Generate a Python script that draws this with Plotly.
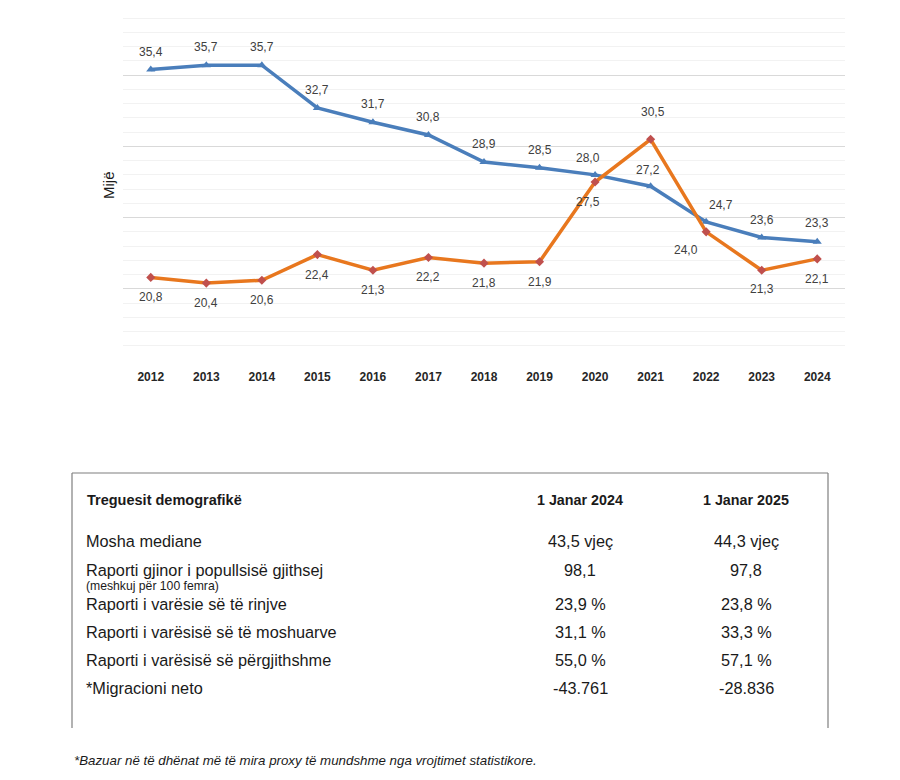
import plotly.graph_objects as go

# Data (thousands)
years = [str(y) for y in range(2012, 2025)]
blue_vals = [35.4, 35.7, 35.7, 32.7, 31.7, 30.8, 28.9, 28.5, 28.0, 27.2, 24.7, 23.6, 23.3]
orange_vals = [20.8, 20.4, 20.6, 22.4, 21.3, 22.2, 21.8, 21.9, 27.5, 30.5, 24.0, 21.3, 22.1]

# label offsets (px) for each point
blue_dx = [0, 0, 0, 0, 0, 0, 0, 0, -7, -3, 15, 0, 0]
blue_dy = [18, 18, 18, 18, 18, 18, 18, 18, 17, 16, 17, 18, 19]
orange_dx = [0, 0, 0, 0, 0, 0, 0, 0, -7, 2, -20, 0, 0]
orange_dy = [-20, -20, -20, -20, -20, -20, -20, -20, -20, 27, -18, -19, -20]

# Table
table_header = ["Treguesit demografikë", "1 Janar 2024", "1 Janar 2025"]
row_labels = ["Mosha mediane", "Raporti gjinor i popullsisë gjithsej",
              "Raporti i varësie së të rinjve", "Raporti i varësisë së të moshuarve",
              "Raporti i varësisë së përgjithshme", "*Migracioni neto"]
col_2024 = ["43,5 vjeç", "98,1", "23,9 %", "31,1 %", "55,0 %", "-43.761"]
col_2025 = ["44,3 vjeç", "97,8", "23,8 %", "33,3 %", "57,1 %", "-28.836"]
row_y = [541, 570, 604, 632, 660, 688]
sub_note = "(meshkuj për 100 femra)"
footnote = "*Bazuar në të dhënat më të mira proxy të mundshme nga vrojtimet statistikore."

# page body has an 8px margin, so the figure is drawn 8px in from the window corner
OFF = 8
W, H = 900 - 2 * OFF, 780 - 2 * OFF
FONT = "Liberation Sans, Arial, sans-serif"
BLUE = "#4a7ebb"
ORANGE = "#e8771e"
RED = "#c0504d"

# plot area in window pixels: 40 sits at y=4, 15 at y=360; top is clipped at the figure edge
Y_BOTTOM, Y_TOP40 = 360, 4
y_top = 15 + 25 * (Y_BOTTOM - OFF) / (Y_BOTTOM - Y_TOP40)


def px(x):
    return (x - OFF) / W


def py(y):
    return 1 - (y - OFF) / H


def note(x, y, text, size, anchor="center", **kw):
    fig.add_annotation(xref="paper", yref="paper", x=px(x), y=py(y), text=text,
                       xanchor=anchor, yanchor="middle", showarrow=False,
                       font=dict(family=FONT, size=size, color="#1a1a1a"), **kw)


fig = go.Figure()
fig.add_trace(go.Scatter(x=years, y=blue_vals, mode="lines+markers", name="blue",
                         line=dict(color=BLUE, width=3.5),
                         marker=dict(symbol="triangle-up", size=8, color=BLUE)))
fig.add_trace(go.Scatter(x=years, y=orange_vals, mode="lines+markers", name="orange",
                         line=dict(color=ORANGE, width=3.5),
                         marker=dict(symbol="diamond", size=7, color=RED)))

fmt = lambda v: f"{v:.1f}".replace(".", ",")
for vals, dxs, dys in [(blue_vals, blue_dx, blue_dy), (orange_vals, orange_dx, orange_dy)]:
    for i, (v, dx, dy) in enumerate(zip(vals, dxs, dys)):
        fig.add_annotation(x=i, y=v, text=fmt(v), showarrow=False,
                           xanchor="center", yanchor="middle",
                           xshift=dx, yshift=dy,
                           font=dict(family=FONT, size=12, color="#404040"))

# y axis title
note(108, 185, "Mijë", 15, textangle=-90)

# table box (open at bottom)
for x0, y0, x1, y1 in [(72, 473, 828, 473), (72, 473, 72, 728), (828, 473, 828, 728)]:
    fig.add_shape(type="line", xref="paper", yref="paper",
                  x0=px(x0), y0=py(y0), x1=px(x1), y1=py(y1),
                  line=dict(color="#7f7f7f", width=1.2))

note(85, 500, "<b>" + table_header[0] + "</b>", 14.5, anchor="left")
note(580, 500, "<b>" + table_header[1] + "</b>", 14.3)
note(746, 500, "<b>" + table_header[2] + "</b>", 14.3)

for lab, a, b, ry in zip(row_labels, col_2024, col_2025, row_y):
    note(84, ry, lab, 16.3, anchor="left")
    note(580, ry, a, 16.3)
    note(746, ry, b, 16.3)

note(84, 586, sub_note, 12.2, anchor="left")
note(72, 760, "<i>" + footnote + "</i>", 13.3, anchor="left")

fig.update_layout(
    width=W, height=H,
    margin=dict(l=0, r=0, t=0, b=0),
    paper_bgcolor="white", plot_bgcolor="white",
    showlegend=False,
    xaxis=dict(domain=[px(123), px(845)], range=[-0.5, 12.5], type="category",
               showgrid=False, showline=False, zeroline=False, ticks="",
               ticklabelstandoff=8,
               tickfont=dict(family=FONT, size=12, color="#262626", weight="bold")),
    yaxis=dict(domain=[py(Y_BOTTOM), 1], range=[15, y_top], dtick=5,
               showticklabels=False, showline=False, zeroline=False,
               gridcolor="#d9d9d9", gridwidth=1,
               minor=dict(dtick=1, showgrid=True, gridcolor="#f2f2f2", gridwidth=1)),
)

fig.write_html("out.html")
